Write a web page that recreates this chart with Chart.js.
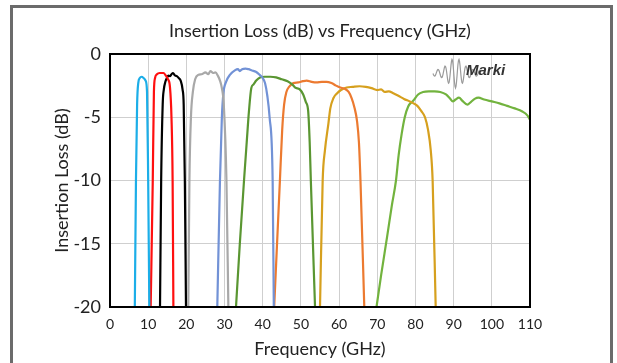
<!DOCTYPE html>
<html><head><meta charset="utf-8">
<script src="https://cdn.jsdelivr.net/npm/chart.js@4/dist/chart.umd.min.js"></script>
<style>
html,body{margin:0;padding:0;background:#fff;}
#wrap{position:relative;width:617px;height:363px;}
#frame{position:absolute;left:10px;top:5px;width:597px;height:360px;border:3px solid #6b6b6b;border-bottom:none;box-sizing:content-box;pointer-events:none;}
canvas{position:absolute;left:0;top:0;}
</style></head>
<body><div id="wrap"><canvas id="c" width="617" height="363"></canvas><div id="frame"></div></div>
<script>
const titleText = "Insertion Loss (dB) vs Frequency (GHz)";
const xTitle = "Frequency (GHz)";
const yTitle = "Insertion Loss (dB)";
const logoText = "Marki";
const xTicks = [0,10,20,30,40,50,60,70,80,90,100,110];
const yTicks = [0,-5,-10,-15,-20];

const cyanF = [6.5,6.8,7.1,7.4,7.8,8.3,8.8,9.3,9.7,10.0,10.3];
const cyanL = [-20,-10,-4,-2.3,-1.9,-1.8,-1.9,-2.1,-3,-10,-20];

const redF = [10.65,11.2,11.5,11.8,12.3,13,14,14.6,15.2,15.7,16.1,16.4,16.6];
const redL = [-20,-10,-3,-1.9,-1.6,-1.5,-1.5,-1.7,-2,-2.6,-5,-10,-20];

const blackF = [13.1,13.4,13.8,14.1,14.5,14.9,15.3,15.7,16.1,16.5,17,17.5,18,18.5,19,19.3,19.6,19.9];
const blackL = [-20,-10,-4,-2.8,-2.2,-1.9,-1.7,-1.75,-1.6,-1.5,-1.7,-1.75,-1.9,-2.1,-2.8,-4,-10,-20];

const grayF = [20.5,20.8,21.2,21.7,22.3,23.1,24,25,25.7,26.3,27,27.6,28.3,28.8,29.3,29.8,30.5,31];
const grayL = [-20,-10,-5,-3,-2,-1.65,-1.6,-1.45,-1.6,-1.35,-1.5,-1.45,-1.75,-2.1,-2.7,-4,-10,-20];

const blueF = [28.1,28.8,29.3,29.7,30.4,31.4,32.7,33.5,34,34.6,35.5,36.3,37.2,38.2,39.2,40,40.6,41.2,41.8,42.6,42.9];
const blueL = [-20,-10,-5,-3.1,-2.2,-1.65,-1.3,-1.2,-1.35,-1.2,-1.15,-1.2,-1.3,-1.4,-1.65,-1.9,-2.3,-3.3,-5,-10,-20];

const greenF = [33,34,35.1,35.8,36.4,37,37.6,38.3,39.3,40.5,42,43.5,45,46.5,47.7,48.5,49.7,50.6,51.3,51.9,52.3,52.6,53.7];
const greenL = [-20,-15,-10,-7,-4.5,-2.7,-2.4,-2.1,-1.85,-1.8,-1.8,-1.85,-2,-2.15,-2.4,-2.65,-2.8,-3.2,-3.8,-4.5,-7,-10,-20];

const orangeF = [43,44.5,45.1,45.6,46.2,46.9,48,49.3,50.5,51.5,52.8,54.1,55.5,56.7,58,59.2,60.3,61.5,62.5,63.3,64,64.7,65.2,65.6,66.6];
const orangeL = [-20,-10,-6,-4,-3,-2.6,-2.3,-2.25,-2.15,-2.1,-2.2,-2.25,-2.2,-2.2,-2.3,-2.5,-2.65,-2.75,-3,-3.5,-4.2,-5.3,-7,-10,-20];

const goldF = [55,55.7,56.3,57.2,57.7,58.5,59.5,60.5,62,63.5,65.4,67,68.5,70,71,72,73,74.2,75.5,77,78.5,79.5,80.5,81.5,82.5,83.3,84,84.5,85.3];
const goldL = [-20,-10,-7.6,-5.5,-4.3,-3.5,-3.1,-2.85,-2.65,-2.6,-2.55,-2.6,-2.7,-2.85,-2.8,-3,-2.95,-3.1,-3.3,-3.55,-3.75,-3.9,-4.1,-4.5,-5,-6,-7.6,-10,-20];

const limeF = [69.8,71,72.6,73.8,74.9,75.6,76.4,77.2,78.1,79.4,80.7,82,83.5,85,86.5,88,89,89.8,90.5,91.4,92.3,93.6,94.5,95.5,96.5,98,100,102,104,106,108,109.3,110];
const limeL = [-20,-17.5,-14.4,-12,-10,-8,-6.3,-5,-4.15,-3.7,-3.2,-3.0,-2.95,-2.95,-3.0,-3.2,-3.5,-3.75,-3.6,-3.45,-3.7,-4.0,-3.8,-3.55,-3.45,-3.6,-3.75,-3.9,-4.1,-4.3,-4.55,-4.85,-5.2];

const series = [
  {f:cyanF, l:cyanL, c:'#1CAEE8'},
  {f:redF, l:redL, c:'#FF1010'},
  {f:blackF, l:blackL, c:'#000000'},
  {f:grayF, l:grayL, c:'#A8A8A8'},
  {f:blueF, l:blueL, c:'#7292D6'},
  {f:greenF, l:greenL, c:'#5A9632'},
  {f:orangeF, l:orangeL, c:'#EC7A30'},
  {f:goldF, l:goldL, c:'#D6A01E'},
  {f:limeF, l:limeL, c:'#72B33E'}
];

const datasets = series.map(s => ({
  data: s.f.map((x,i)=>({x:x, y:s.l[i]})),
  borderColor: s.c, borderWidth: 2.2, pointRadius: 0,
  tension: 0.4, cubicInterpolationMode: 'monotone', fill:false
}));

const decor = {
  id:'decor',
  afterDraw(chart){
    const ctx = chart.ctx;
    const a = chart.chartArea;
    ctx.save();
    ctx.strokeStyle = '#000'; ctx.lineWidth = 2;
    ctx.strokeRect(a.left, a.top, a.right-a.left, a.bottom-a.top);
    ctx.fillStyle = '#222';
    ctx.font = '18px Lato';
    ctx.textAlign = 'center'; ctx.textBaseline = 'middle';
    ctx.fillText(titleText, 320, 31);
    // logo wave
    ctx.strokeStyle = '#9a9a9a'; ctx.lineWidth = 1.2;
    ctx.beginPath();
    const x0 = 433, x1 = 481, cx = 455.5, cy = 73;
    let first = true;
    for (let x = x0; x <= x1; x += 0.5) {
      const t = (x - cx);
      const env = Math.exp(-(t*t)/(2*7*7));
      const y = cy + (3 + 12*env)*Math.cos(t*0.9);
      if (first) { ctx.moveTo(x, y); first = false; } else ctx.lineTo(x, y);
    }
    ctx.stroke();
    ctx.fillStyle = '#333';
    ctx.font = 'italic bold 15px "Liberation Sans"';
    ctx.textAlign = 'left';
    ctx.fillText(logoText, 466, 71);
    ctx.restore();
  }
};

new Chart(document.getElementById('c'), {
  type:'line',
  data:{datasets},
  options:{
    responsive:false, animation:false, devicePixelRatio:1,
    layout:{padding:{left:50, top:54, right:87, bottom:0}},
    plugins:{legend:{display:false}, title:{display:false}, tooltip:{enabled:false}},
    scales:{
      x:{type:'linear', min:0, max:110,
        afterFit(s){ s.height = 56; },
        afterBuildTicks(s){ s.ticks = xTicks.map(v=>({value:v})); },
        grid:{color:'#cfcfcf', lineWidth:1, drawTicks:false},
        border:{display:false},
        ticks:{color:'#222', font:{family:'Lato', size:14}, padding:9, maxRotation:0},
        title:{display:true, text:xTitle, color:'#222', font:{family:'Lato', size:18}, padding:{top:0,bottom:3}}
      },
      y:{type:'linear', min:-20, max:0,
        afterFit(s){ s.width = 60; },
        afterBuildTicks(s){ s.ticks = yTicks.map(v=>({value:v})); },
        grid:{color:'#cfcfcf', lineWidth:1, drawTicks:false},
        border:{display:false},
        ticks:{color:'#222', font:{family:'Lato', size:18}, padding:9},
        title:{display:true, text:yTitle, color:'#222', font:{family:'Lato', size:18}, padding:{top:1,bottom:0}}
      }
    }
  },
  plugins:[decor]
});
</script></body></html>
